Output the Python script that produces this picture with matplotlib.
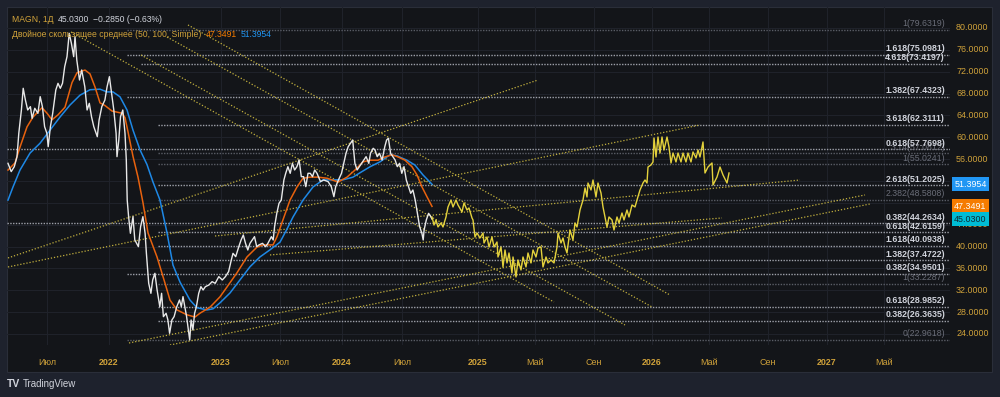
import matplotlib
matplotlib.use("Agg")
import matplotlib.pyplot as plt
from matplotlib.patches import Rectangle
from matplotlib.offsetbox import TextArea, HPacker, VPacker, AnchoredOffsetbox

plt.rcParams['font.family'] = ['Liberation Sans', 'DejaVu Sans']

# ---------------- data (x = time index of the chart, y = price) ----------------
price_t = [8.0, 11.2, 14.3, 17.0, 18.8, 21.4, 23.2, 25.4, 27.7, 30.4, 32.1, 34.8, 37.9, 40.2, 42.4,
           44.6, 46.9, 48.2, 50.4, 52.7, 55.8, 58.0, 60.3, 62.5, 64.7, 67.0, 69.2, 71.4, 73.7, 75.0,
           76.8, 79.5, 81.7, 84.8, 87.1, 89.3, 91.5, 93.8, 97.3, 99.1, 101.8, 104.9, 107.1, 109.4,
           111.6, 113.8, 116.1, 117.0, 118.8, 120.5, 122.8, 125.0, 126.3, 127.2, 128.6, 130.4, 133.0,
           134.8, 138.4, 140.6, 142.9, 145.1, 146.4, 148.7, 150.9, 152.7, 154.9, 157.1, 159.8, 161.6,
           163.4, 166.1, 167.9, 169.6, 171.9, 174.1, 176.8, 179.5, 181.3, 183.0, 184.8, 186.6, 188.4,
           189.7, 191.1, 192.9, 194.6, 196.4, 198.7, 200.9, 203.1, 205.4, 208.9, 212.1, 215.2, 218.8,
           222.3, 225.4, 228.6, 231.3, 233.0, 235.7, 238.8, 241.1, 243.3, 245.5, 247.8, 250.0, 252.2,
           254.5, 256.7, 258.9, 262.5, 265.6, 267.9, 271.4, 273.2, 274.6, 276.8, 279.0, 281.3, 283.9,
           285.7, 287.9, 290.2, 292.4, 294.6, 296.9, 299.1, 301.3, 303.6, 305.8, 308.0, 310.3, 312.5,
           314.7, 317.0, 320.5, 323.7, 328.1, 331.3, 333.9, 335.7, 338.4, 341.5, 343.8, 346.0, 348.2,
           350.4, 352.7, 354.9, 357.1, 359.4, 361.6, 363.8, 366.1, 368.8, 370.5, 373.2, 375.0, 377.2,
           379.5, 382.1, 384.8, 386.6, 388.4, 390.6, 392.9, 395.1, 397.3, 399.6, 401.8, 404.0, 406.3,
           408.5, 410.7, 412.9, 415.2, 417.4, 419.6, 421.9, 423.2, 424.1, 426.3, 428.6, 430.8, 432.0]
price_v = [55.23, 53.71, 54.62, 56.45, 60.72, 64.99, 68.96, 66.82, 64.99, 65.60, 63.47, 65.30, 64.38,
           67.43, 65.60, 61.94, 60.72, 58.28, 61.94, 64.38, 68.65, 69.87, 68.96, 69.87, 72.92, 74.75,
           79.02, 77.19, 74.75, 78.41, 74.14, 70.48, 72.31, 69.26, 64.99, 66.21, 63.77, 61.94, 60.11,
           63.16, 65.60, 66.82, 69.26, 71.09, 68.04, 64.99, 60.72, 56.45, 59.50, 63.77, 64.99, 60.72,
           55.84, 48.52, 45.47, 42.42, 45.47, 41.20, 39.98, 43.64, 45.47, 42.42, 38.76, 33.27, 31.44,
           33.88, 35.10, 32.05, 29.00, 31.44, 27.17, 27.78, 26.56, 24.12, 26.56, 27.17, 29.00, 30.22,
           29.00, 30.83, 29.00, 27.17, 24.73, 22.90, 26.56, 24.73, 27.78, 29.00, 31.44, 32.66, 32.05,
           32.66, 32.96, 33.57, 33.27, 34.49, 33.88, 34.49, 35.41, 37.54, 38.76, 38.15, 39.98, 41.20,
           42.12, 40.59, 39.37, 40.59, 41.20, 41.81, 39.98, 40.29, 40.59, 39.98, 40.59, 41.81, 41.20,
           43.64, 46.08, 47.91, 48.52, 52.18, 53.40, 54.62, 53.40, 55.23, 54.01, 54.62, 55.84, 52.79,
           52.79, 50.96, 53.40, 53.40, 52.79, 54.01, 53.40, 51.88, 52.18, 51.88, 50.96, 49.13, 50.96,
           52.18, 53.40, 55.23, 57.06, 58.28, 58.89, 59.50, 55.23, 54.01, 54.62, 55.23, 55.84, 56.45,
           55.23, 57.06, 57.98, 57.67, 56.45, 57.06, 55.84, 58.28, 59.50, 59.81, 57.06, 56.45, 55.84,
           54.62, 55.23, 53.40, 54.62, 52.18, 50.96, 49.74, 50.35, 48.52, 46.08, 43.64, 42.42, 41.20,
           43.03, 44.86, 46.08, 45.47, 45.03]

ma50_t = [8, 15, 20, 27, 33, 42, 47, 52, 58, 65, 72, 77, 85, 90, 95, 100, 105, 112, 117, 122, 125,
          128, 133, 138, 143, 148, 157, 165, 170, 177, 187, 195, 200, 210, 220, 227, 237, 247, 257,
          263, 273, 277, 283, 290, 297, 303, 310, 318, 327, 332, 338, 347, 355, 363, 370, 378, 385,
          392, 398, 405, 412, 417, 422, 427, 432]
ma50_v = [54.0, 55.3, 58.2, 61.9, 63.7, 65.4, 64.4, 63.2, 64.1, 65.5, 70.0, 71.8, 72.3, 71.6, 69.2,
          66.3, 65.8, 64.8, 64.6, 64.4, 63.6, 61.0, 56.5, 52.7, 48.0, 42.5, 38.1, 33.3, 30.2, 28.4,
          27.5, 27.1, 27.8, 28.9, 30.8, 32.6, 35.2, 38.1, 39.9, 40.3, 40.3, 41.8, 44.9, 48.5, 50.9,
          52.5, 52.7, 52.7, 52.5, 52.2, 51.8, 52.7, 54.0, 55.5, 55.8, 55.8, 56.4, 56.8, 56.4, 55.8,
          54.6, 53.1, 50.9, 49.1, 47.35]

ma100_t = [8, 13, 20, 30, 40, 50, 60, 70, 80, 90, 100, 107, 113, 120, 127, 133, 140, 147, 153, 160,
           167, 173, 180, 190, 197, 207, 213, 220, 230, 240, 250, 260, 270, 280, 287, 293, 303, 313,
           323, 333, 343, 353, 360, 370, 380, 390, 397, 407, 415, 423, 432]
ma100_v = [48.5, 50.9, 54.0, 57.1, 58.9, 61.3, 63.7, 65.9, 67.7, 68.7, 68.8, 68.3, 68.3, 67.4, 65.0,
           61.3, 57.7, 55.0, 51.8, 48.5, 42.5, 36.6, 33.5, 30.2, 28.8, 28.4, 28.6, 29.7, 31.5, 33.9,
           36.3, 38.1, 39.4, 40.8, 43.2, 45.4, 48.5, 50.9, 52.2, 52.2, 52.2, 52.7, 53.5, 54.6, 55.5,
           56.8, 56.6, 55.8, 54.9, 53.1, 51.4]

proj_t = [432, 434, 436, 438, 441, 443, 446, 448, 451, 453, 456, 458, 462, 464, 467, 469, 472, 473,
          475, 477, 480, 483, 484, 487, 489, 492, 494, 497, 498, 501, 503, 505, 507, 509, 512, 513,
          516, 518, 521, 523, 526, 528, 531, 533, 536, 538, 541, 543, 546, 548, 551, 554, 557, 558,
          561, 563, 565, 567, 570, 573, 575, 577, 580, 583, 585, 587, 588, 591, 593, 596, 598, 601,
          603, 605, 607, 609, 612, 614, 617, 619, 622, 624, 627, 629, 632, 635, 637, 640, 643, 645,
          647, 648, 651, 653, 654, 656, 658, 660, 662, 664, 667, 669, 671, 673, 676, 678, 681, 683,
          686, 688, 691, 693, 696, 698, 700, 703, 705, 708, 712, 713, 717, 720, 723, 727, 729]
proj_v = [45.41, 43.95, 44.86, 43.58, 44.31, 43.58, 45.41, 47.24, 48.52, 47.24, 48.52, 47.61, 46.33,
          47.97, 46.69, 47.06, 45.23, 44.86, 41.75, 42.48, 41.57, 42.48, 40.65, 41.75, 39.92, 41.75,
          39.92, 40.83, 38.09, 39.92, 36.26, 39.37, 36.99, 38.82, 35.16, 38.09, 34.43, 37.54, 35.71,
          38.09, 36.26, 38.82, 36.99, 39.37, 38.09, 39.74, 39.92, 36.26, 38.09, 36.99, 37.54, 36.99,
          39.92, 42.48, 40.65, 41.57, 39.92, 38.82, 43.03, 41.20, 44.31, 43.58, 46.69, 48.52, 50.72,
          49.07, 51.63, 50.35, 52.18, 49.07, 51.63, 49.80, 47.24, 45.41, 43.58, 45.41, 44.86, 43.03,
          45.41, 44.31, 46.14, 44.86, 46.69, 45.41, 47.61, 47.24, 48.52, 50.35, 51.63, 52.18, 51.63,
          54.56, 54.93, 55.48, 59.87, 56.39, 60.05, 57.12, 60.05, 57.67, 60.05, 58.22, 55.29, 57.12,
          55.48, 57.12, 55.48, 57.12, 55.48, 57.12, 55.48, 57.31, 56.21, 57.67, 56.39, 59.14, 53.46,
          54.56, 55.29, 51.27, 52.73, 54.56, 53.10, 51.63, 53.46]

# Fibonacci levels: value, start index, label, bright(1)/dim(0)
fib_values = [79.6319, 75.0981, 73.4197, 67.4323, 62.3111, 57.7698, 57.0812, 55.0241, 51.2025,
              48.5808, 44.2634, 42.6159, 40.0938, 37.4722, 34.9501, 33.2287, 28.9852, 26.3635, 22.9618]
fib_start = [127, 127, 141, 127, 158, 7, 158, 158, 158, 158, 7, 158, 158, 158, 127, 158, 158, 158, 127]
fib_labels = ["1(79.6319)", "1.618(75.0981)", "4.618(73.4197)", "1.382(67.4323)", "3.618(62.3111)",
              "0.618(57.7698)", "3.14(57.0812)", "1(55.0241)", "2.618(51.2025)", "2.382(48.5808)",
              "0.382(44.2634)", "0.618(42.6159)", "1.618(40.0938)", "1.382(37.4722)",
              "0.382(34.9501)", "1(33.2287)", "0.618(28.9852)", "0.382(26.3635)", "0(22.9618)"]
fib_bright = [0, 1, 1, 1, 1, 1, 0, 0, 1, 0, 1, 1, 1, 1, 1, 0, 1, 1, 0]

# Trend lines (start t, start price, end t, end price)
trend_t0 = [71, 141, 167, 188, 8, 8, 215, 270, 129, 170]
trend_v0 = [79.27, 75.06, 78.35, 80.55, 37.91, 36.26, 41.93, 38.46, 22.35, 21.98]
trend_t1 = [554, 625, 652, 670, 538, 700, 800, 722, 865, 870]
trend_v1 = [29.85, 25.64, 28.94, 31.13, 70.48, 62.25, 52.18, 45.23, 49.44, 47.79]

time_ticks = [47, 109, 221, 280, 342, 402, 478, 535, 594, 652, 709, 768, 827, 884]
time_labels = ["Июл", "2022", "2023", "Июл", "2024", "Июл", "2025", "Май", "Сен", "2026", "Май",
               "Сен", "2027", "Май"]
price_ticks = [24, 28, 32, 36, 40, 44, 48, 52, 56, 60, 64, 68, 72, 76, 80]

last_close = 45.03
ma50_last = 47.3491
ma100_last = 51.3954

# ---------------- styling ----------------
BG_OUT = '#1e222d'
BG_PANEL = '#131519'
GOLD = '#d0a23a'
TXT = '#d1d4dc'
DIM = '#6a6d78'
YEL_LINE = '#c2b03e'

fig = plt.figure(figsize=(10, 3.97), dpi=100, facecolor=BG_OUT)
fig.patches.append(Rectangle((7 / 1000, 1 - 372 / 397), 985 / 1000, 365 / 397,
                             transform=fig.transFigure, facecolor=BG_PANEL, edgecolor='#2a2e39',
                             lw=0.8, zorder=-10))

ax = fig.add_axes([7 / 1000, 1 - 345 / 397, 943 / 1000, 338 / 397])
ax.set_zorder(1)
ax.patch.set_visible(False)
ax.set_xlim(7, 950)
ax.set_ylim(21.98, 83.84)
for s in ax.spines.values():
    s.set_visible(False)
ax.set_xticks([])
ax.set_yticks([])

# grid
for t in time_ticks:
    ax.axvline(t, color='#1f222a', lw=0.8, zorder=0)
for p in price_ticks:
    ax.axhline(p, color='#1f222a', lw=0.8, zorder=0)

# fib levels
for v, st, lab, br in zip(fib_values, fib_start, fib_labels, fib_bright):
    col = '#9ea1aa' if br else '#5a5d66'
    ax.plot([st, 950], [v, v], color=col, lw=1.0, ls=(0, (1, 1)), zorder=1)
    ax.annotate(lab, xy=(945, v), xytext=(0, 1.2), textcoords='offset points',
                ha='right', va='bottom', fontsize=6.3,
                color=(TXT if br else DIM), fontweight=('bold' if br else 'normal'),
                zorder=(5 if br else 4))

# trend lines
for t0, v0, t1, v1 in zip(trend_t0, trend_v0, trend_t1, trend_v1):
    ax.plot([t0, t1], [v0, v1], color=YEL_LINE, lw=0.9, ls=(0, (1, 1.5)), zorder=2)

# series
ax.plot(ma100_t, ma100_v, color='#1e88e5', lw=1.1, zorder=3)
ax.plot(ma50_t, ma50_v, color='#e8620e', lw=1.1, zorder=3)
ax.plot(price_t, price_v, color='#e8e8e8', lw=1.0, zorder=4)
ax.plot(proj_t, proj_v, color='#e4d23c', lw=1.0, zorder=4)

# price axis labels
ytr = ax.get_yaxis_transform()
for p in price_ticks:
    ax.text(1.0064, p, f"{p:.4f}", transform=ytr, ha='left', va='center', fontsize=6.4,
            color=GOLD, clip_on=False)

# badges
for val, fc, tc in [(ma100_last, '#2196f3', 'white'), (ma50_last, '#f57c00', 'white'),
                    (last_close, '#00bcd4', '#0d2a33')]:
    ax.text(1.0045, val, f"{val:.4f}", transform=ytr, ha='left', va='center', fontsize=6.4,
            color=tc, clip_on=False, zorder=10,
            bbox=dict(boxstyle='square,pad=0.28', fc=fc, ec='none'))

# time axis labels
xtr = ax.get_xaxis_transform()
for t, lab in zip(time_ticks, time_labels):
    ax.text(t, -0.052, lab, transform=xtr, ha='center', va='center', fontsize=6.4, color=GOLD,
            fontweight=('bold' if lab.isdigit() else 'normal'), clip_on=False)

# legend
fs = 6.2
row1 = HPacker(children=[
    TextArea("MAGN, 1Д", textprops=dict(color=GOLD, fontsize=fs)),
    TextArea("45.0300", textprops=dict(color=TXT, fontsize=fs)),
    TextArea("−0.2850 (−0.63%)", textprops=dict(color=TXT, fontsize=fs)),
], sep=3, pad=0, align='baseline')
row2 = HPacker(children=[
    TextArea("Двойное скользящее среднее (50, 100, Simple)", textprops=dict(color=GOLD, fontsize=fs)),
    TextArea(f"{ma50_last:.4f}", textprops=dict(color='#f57c00', fontsize=fs)),
    TextArea(f"{ma100_last:.4f}", textprops=dict(color='#2196f3', fontsize=fs)),
], sep=3, pad=0, align='baseline')
box = VPacker(children=[row1, row2], sep=4, pad=0, align='left')
anch = AnchoredOffsetbox(loc='upper left', child=box, frameon=False, pad=0, borderpad=0,
                         bbox_to_anchor=(0.0053, 0.976), bbox_transform=ax.transAxes)
anch.set_zorder(12)
ax.add_artist(anch)

# TradingView mark
fig.text(7 / 1000, 1 - 384 / 397, "TV", fontsize=7.5, fontweight='bold', color=TXT,
         ha='left', va='center')
fig.text(23 / 1000, 1 - 384 / 397, "TradingView", fontsize=7, color=TXT, ha='left', va='center')

fig.savefig("out.png", dpi=100, facecolor=BG_OUT)
